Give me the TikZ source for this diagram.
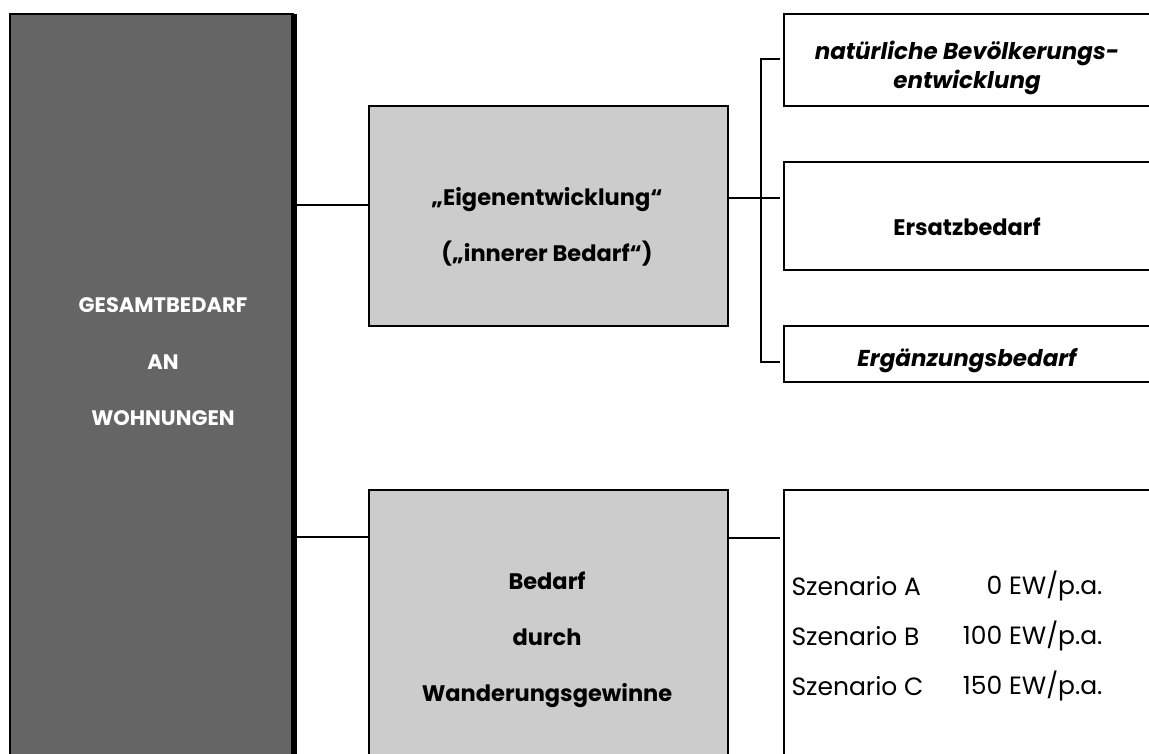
\documentclass[tikz,border=0pt]{standalone}
\usepackage{fontspec}
\setmainfont{Poppins}
\definecolor{darkbox}{HTML}{656565}
\definecolor{lightbox}{HTML}{CCCCCC}
\begin{document}
\begin{tikzpicture}[x=1pt,y=-1pt,
  conn/.style={line width=2pt},
  midbox/.style={draw, line width=2pt, fill=lightbox, minimum width=359pt, inner sep=0pt, anchor=north west},
  rbox/.style={draw, line width=2pt, fill=white, minimum width=400pt, inner sep=0pt, anchor=north west},
  capstxt/.style={font=\fontsize{21}{56.5}\selectfont\bfseries, align=center},
  boldtxt/.style={font=\fontsize{22.5}{56}\selectfont\bfseries, align=center},
  itbtxt/.style={font=\fontsize{23}{29.5}\selectfont\bfseries\itshape, align=center},
  regtxt/.style={font=\fontsize{25}{28}\selectfont}
]
\useasboundingbox (0,0) rectangle (1149,754);
\clip (0,0) rectangle (1149,754);
% main left box
\node[draw, line width=2pt, fill=darkbox, minimum width=283pt, minimum height=760pt, inner sep=0pt, anchor=north west] (total) at (9,13) {};
\draw[line width=6pt] ([yshift=-1pt]total.north east) -- (total.south east);
\node[capstxt, text=white] (totaltxt) at (163,362) {GESAMTBEDARF\\AN\\WOHNUNGEN};
% middle boxes
\node[midbox, minimum height=220pt] (eig) at (368,105) {};
\node[boldtxt] (eigtxt) at (547,227) {„Eigenentwicklung“\\(„innerer Bedarf“)};
\node[midbox, minimum height=300pt] (bed) at (368,489) {};
\node[boldtxt] (bedtxt) at (547,640) {Bedarf\\durch\\Wanderungsgewinne};
% right boxes
\node[rbox, minimum height=92pt] (r1) at (783,13) {};
\node[itbtxt] (r1txt) at (967,68) {natürliche Bevölkerungs-\\entwicklung};
\node[rbox, minimum height=108pt] (r2) at (783,161) {};
\node[boldtxt] (r2txt) at (967,227) {Ersatzbedarf};
\node[rbox, minimum height=56pt] (r3) at (783,325) {};
\node[itbtxt] (r3txt) at (967,361) {Ergänzungsbedarf};
\node[rbox, minimum height=300pt] (r4) at (783,489) {};
\node[regtxt, anchor=west] (sa) at (788,586) {Szenario A};
\node[regtxt, anchor=west] (sb) at (788,636) {Szenario B};
\node[regtxt, anchor=west] (sc) at (788,686) {Szenario C};
\node[regtxt, anchor=east] (va) at (1106,586) {0 EW/p.a.};
\node[regtxt, anchor=east] (vb) at (1106,636) {100 EW/p.a.};
\node[regtxt, anchor=east] (vc) at (1106,686) {150 EW/p.a.};
% connectors
\coordinate (bt) at (761,59);
\coordinate (bb) at (761,362);
\draw[conn] (total.east |- 0,205) -- (eig.west |- 0,205);
\draw[conn] (eig.east |- 0,198) -- ([xshift=-3pt]r2.west |- 0,198);
\draw[conn] ([xshift=-3pt]r1.west |- bt) -- (bt) -- (bb) -- ([xshift=-3pt]r3.west |- bb);
\draw[conn] (total.east |- 0,537) -- (bed.west |- 0,537);
\draw[conn] (bed.east |- 0,538) -- ([xshift=-3pt]r4.west |- 0,538);
\end{tikzpicture}
\end{document}
